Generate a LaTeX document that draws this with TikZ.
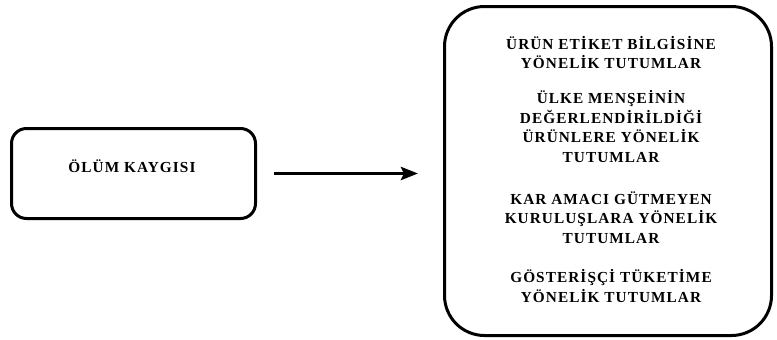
\documentclass[tikz,border=0pt]{standalone}
\usepackage{fontspec}
\setmainfont{Liberation Serif}[LetterSpace=7]
\usetikzlibrary{arrows.meta}
\begin{document}
\begin{tikzpicture}[x=1pt,y=-1pt,
  frame/.style={draw, line width=3pt, inner sep=0pt},
  caption/.style={font=\fontsize{15.3}{19.6}\selectfont\bfseries, align=center, inner sep=0pt},
  link/.style={line width=3.5pt, -{Stealth[length=17pt,width=13pt,inset=3pt]}}]
\useasboundingbox (0,0) rectangle (777,340);

% cause box
\node[frame, rounded corners=15pt, minimum width=244pt, minimum height=90pt] (cause) at (133.5,173.5) {};
\node[caption] (causetext) at (132,166) {ÖLÜM KAYGISI};

% effects box
\node[frame, rounded corners=40pt, minimum width=327pt, minimum height=329pt] (effects) at (608,171) {};
\node[caption] (e1) at (611,52.5) {ÜRÜN ETİKET BİLGİSİNE\\YÖNELİK TUTUMLAR};
\node[caption] (e2) at (611,126.5) {ÜLKE MENŞEİNİN\\DEĞERLENDİRİLDİĞİ\\ÜRÜNLERE YÖNELİK\\TUTUMLAR};
\node[caption] (e3) at (611,217.5) {KAR AMACI GÜTMEYEN\\KURULUŞLARA YÖNELİK\\TUTUMLAR};
\node[caption] (e4) at (611,286) {GÖSTERİŞÇİ TÜKETİME\\YÖNELİK TUTUMLAR};

% arrow
\draw[link, shorten <=17pt, shorten >=25pt] (cause.east) -- (cause.east -| effects.west);
\end{tikzpicture}
\end{document}
